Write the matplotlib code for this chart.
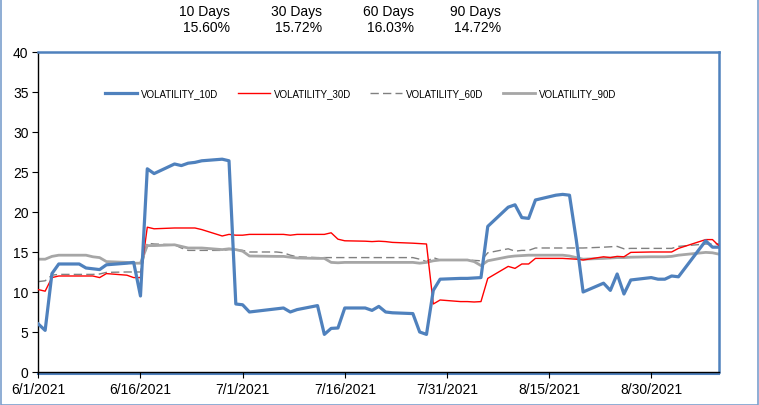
import numpy as np
import pandas as pd
import matplotlib
matplotlib.use("Agg")
import matplotlib.pyplot as plt
from matplotlib.patches import Rectangle

plt.rcParams["font.family"] = ["Liberation Sans", "DejaVu Sans"]

# trading days 6/1/2021 - 9/9/2021 (7/5 and 9/6 closed)
dates = pd.bdate_range("2021-06-01", "2021-09-09")
dates = dates[~dates.isin(pd.to_datetime(["2021-07-05", "2021-09-06"]))]

vol_10d = [
    6.0, 5.2, 12.3, 13.5, 13.5, 13.0, 12.9, 12.8, 13.4, 13.6, 13.7, 9.5, 25.4, 24.8,
    26.0, 25.8, 26.1, 26.2, 26.4, 26.6, 26.4, 8.5,
    8.4, 7.5, 7.9, 8.0, 7.5, 7.8, 8.3, 4.7, 5.45, 5.5, 8.0, 8.0, 7.7, 8.2, 7.5, 7.4,
    7.3, 5.0, 4.7, 10.2, 11.6,
    11.7, 11.7, 11.75, 11.8, 18.2, 20.6, 20.9, 19.3, 19.2, 21.5, 22.1, 22.2, 22.1,
    16.5, 10.0, 11.1, 10.2, 12.25, 9.75, 11.5, 11.8, 11.6,
    11.6, 12.0, 11.9, 16.4, 15.6, 15.6,
]
vol_30d = [
    10.3, 10.1, 11.8, 12.0, 12.0, 12.0, 12.0, 11.8, 12.3, 12.1, 11.8, 11.8, 18.1, 17.9,
    18.0, 18.0, 18.0, 18.0, 17.8, 17.0, 17.2, 17.1,
    17.1, 17.2, 17.2, 17.2, 17.1, 17.2, 17.2, 17.2, 17.4, 16.6, 16.4, 16.35, 16.3,
    16.35, 16.3, 16.2, 16.1, 16.05, 16.0, 8.5, 9.0,
    8.8, 8.8, 8.75, 8.8, 11.7, 13.2, 12.95, 13.5, 13.5, 14.2, 14.2, 14.2, 14.15,
    14.1, 14.0, 14.4, 14.3, 14.45, 14.4, 14.95, 15.0, 15.0,
    15.0, 15.0, 15.45, 16.55, 16.55, 15.72,
]
vol_60d = [
    11.3, 11.4, 12.1, 12.2, 12.2, 12.2, 12.2, 12.25, 12.45, 12.5, 12.5, 12.5, 16.1, 16.0,
    15.9, 15.5, 15.2, 15.2, 15.2, 15.2, 15.3, 15.3,
    15.2, 15.0, 15.0, 14.9, 14.6, 14.4, 14.3, 14.3, 14.3, 14.3, 14.3, 14.3, 14.3,
    14.3, 14.3, 14.3, 14.3, 14.1, 13.8, 14.3, 14.0,
    14.0, 14.0, 13.95, 13.9, 14.9, 15.4, 15.1, 15.2, 15.2, 15.5, 15.5, 15.5, 15.5,
    15.5, 15.5, 15.6, 15.65, 15.7, 15.4, 15.45, 15.45, 15.45,
    15.45, 15.45, 15.7, 16.0, 16.0, 16.03,
]
vol_90d = [
    14.1, 14.1, 14.45, 14.6, 14.6, 14.6, 14.4, 14.3, 13.8, 13.7, 13.6, 13.6, 15.8, 15.8,
    15.9, 15.7, 15.5, 15.5, 15.5, 15.3, 15.4, 15.3,
    15.1, 14.5, 14.45, 14.45, 14.35, 14.25, 14.2, 14.2, 13.7, 13.65, 13.7, 13.7, 13.7,
    13.7, 13.7, 13.7, 13.7, 13.6, 13.7, 13.9, 14.0,
    14.0, 14.0, 13.8, 13.3, 13.9, 14.4, 14.5, 14.55, 14.6, 14.6, 14.6, 14.6, 14.5,
    14.3, 14.1, 14.2, 14.25, 14.3, 14.3, 14.35, 14.4, 14.4,
    14.4, 14.45, 14.6, 14.95, 14.9, 14.72,
]

header_labels = ["10 Days", "30 Days", "60 Days", "90 Days"]
header_values = ["15.60%", "15.72%", "16.03%", "14.72%"]
tick_dates = pd.to_datetime(["2021-06-01", "2021-06-16", "2021-07-01", "2021-07-16",
                             "2021-07-31", "2021-08-15", "2021-08-30"])

fig = plt.figure(figsize=(7.59, 4.06), dpi=100)
ax = fig.add_axes([0.0505, 0.0813, 0.8972, 0.7882])

ax.plot(dates, vol_10d, color="#4f81bd", lw=2.3, label="VOLATILITY_10D", zorder=4)
ax.plot(dates, vol_30d, color="#ff0000", lw=1.0, label="VOLATILITY_30D", zorder=3)
ax.plot(dates, vol_60d, color="#808080", lw=1.0, ls=(0, (6, 3)), label="VOLATILITY_60D", zorder=2)
ax.plot(dates, vol_90d, color="#a6a6a6", lw=2.0, label="VOLATILITY_90D", zorder=2)

ax.set_xlim(dates[0], dates[-1])
ax.set_ylim(0, 40)
ax.set_yticks(np.arange(0, 41, 5))
ax.set_xticks(tick_dates)
ax.set_xticklabels([f"{d.month}/{d.day}/{d.year}" for d in tick_dates])
ax.tick_params(axis="both", labelsize=10, length=4, width=0.8, color="black", pad=3)

for side in ["left", "bottom"]:
    ax.spines[side].set_color("black")
    ax.spines[side].set_linewidth(1.0)
for side in ["top", "right"]:
    ax.spines[side].set_color("#4f81bd")
    ax.spines[side].set_linewidth(1.8)
# blue plot-area border showing just under the black x axis
ax.axhline(-0.25, color="#4f81bd", lw=1.5, clip_on=False, zorder=1)

ax.legend(loc="center left", bbox_to_anchor=(0.085, 0.87), ncol=4, frameon=False,
          fontsize=7, handlelength=3.3, handletextpad=0.4, columnspacing=2.0)

right_edges = [230, 322, 414, 501]
for xr, lab, val in zip(right_edges, header_labels, header_values):
    fig.text(xr / 759, 1 - 12 / 406, lab, ha="right", va="center", fontsize=10)
    fig.text(xr / 759, 1 - 28 / 406, val, ha="right", va="center", fontsize=10)

fig.patches.append(Rectangle((0.001, 0.001), 0.998, 0.998, transform=fig.transFigure,
                             fill=False, edgecolor="#7ba0cd", lw=1.2))

fig.savefig("out.png", dpi=100)
